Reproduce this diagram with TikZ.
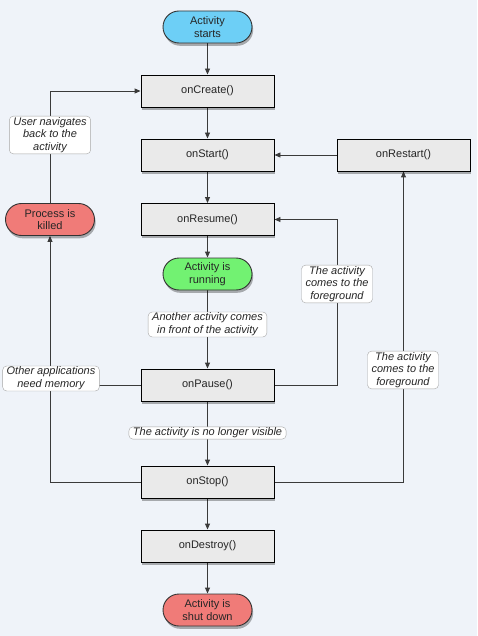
\documentclass[tikz,border=0pt]{standalone}
\usepackage{fontspec}
\setmainfont{Liberation Sans}
\usetikzlibrary{shadows,arrows.meta,calc}
\pgfdeclarelayer{bg}
\pgfdeclarelayer{edges}
\pgfsetlayers{bg,edges,main}
\definecolor{bgcol}{HTML}{EFF3F9}
\definecolor{boxfill}{HTML}{EAEAEA}
\definecolor{startcol}{HTML}{6DCFF6}
\definecolor{runcol}{HTML}{72F272}
\definecolor{killcol}{HTML}{F07B78}
\definecolor{linecol}{HTML}{3A3A3A}
\begin{document}
\begin{tikzpicture}[x=1pt,y=-1pt,
  every node/.style={font=\fontsize{11}{12.7}\selectfont, text=black!85},
  shade/.style={drop shadow={shadow xshift=1.2pt, shadow yshift=-2.8pt, opacity=0.3, fill=black}},
  method/.style={draw=black, line width=0.9pt, fill=boxfill, minimum width=133pt, minimum height=32pt, inner sep=0pt, shade},
  term/.style={draw=black!80, line width=0.9pt, rounded corners=16pt, minimum width=89pt, minimum height=32pt, align=center, inner sep=0pt, shade},
  note/.style={draw=black!35, fill=white, rounded corners=4pt, align=center, font=\fontsize{11}{12.7}\selectfont\itshape, inner xsep=4pt, inner ysep=1pt},
  conn/.style={draw=linecol, line width=0.9pt},
  arr/.style={conn, -{Triangle[length=6pt,width=5pt]}}]
\begin{pgfonlayer}{bg}
\fill[bgcol] (0,0) rectangle (477,636);
\end{pgfonlayer}
\useasboundingbox (0,0) rectangle (477,636);

% main nodes
\node[term, fill=startcol] (start) at (207.5,27) {Activity\\starts};
\node[method] (create) at (207.5,91) {onCreate()};
\node[method] (startm) at (207.5,155) {onStart()};
\node[method] (restart) at (403.5,155) {onRestart()};
\node[method] (resume) at (207.5,219.5) {onResume()};
\node[term, fill=killcol] (killed) at (50,219.5) {Process is\\killed};
\node[term, fill=runcol] (running) at (207.5,274) {Activity is\\running};
\node[method] (pause) at (207.5,385) {onPause()};
\node[method] (stop) at (207.5,482) {onStop()};
\node[method] (destroy) at (207.5,546) {onDestroy()};
\node[term, fill=killcol] (shut) at (207.5,610) {Activity is\\shut down};

% labels
\node[note] (lback) at (50,135) {User navigates\\back to the\\activity};
\node[note] (lfront) at (207.5,324.5) {Another activity comes\\in front of the activity};
\node[note] (lfg1) at (337,284) {The activity\\comes to the\\foreground};
\node[note] (lfg2) at (403,370) {The activity\\comes to the\\foreground};
\node[note] (lmem) at (51,378.5) {Other applications\\need memory};
\node[note] (lvis) at (207.5,433) {The activity is no longer visible};

\coordinate (fgturn) at (337,385);

\begin{pgfonlayer}{edges}
\draw[arr] (start) -- (create);
\draw[arr] (create) -- (startm);
\draw[arr] (startm) -- (resume);
\draw[arr] (resume) -- (running);
\draw[arr] (running) -- (pause);
\draw[arr] (pause) -- (stop);
\draw[arr] (stop) -- (destroy);
\draw[arr] (destroy) -- (shut);
\draw[arr] (restart) -- (startm);
\draw[arr] (stop.east) -| (restart.south);
\draw[arr] (pause.east) -- (fgturn) |- (resume.east);
\draw[conn] (pause.west) -- (pause.west -| killed.south);
\draw[arr] (stop.west) -| (killed.south);
\draw[arr] (killed.north) |- (create.west);
\end{pgfonlayer}
\end{tikzpicture}
\end{document}
